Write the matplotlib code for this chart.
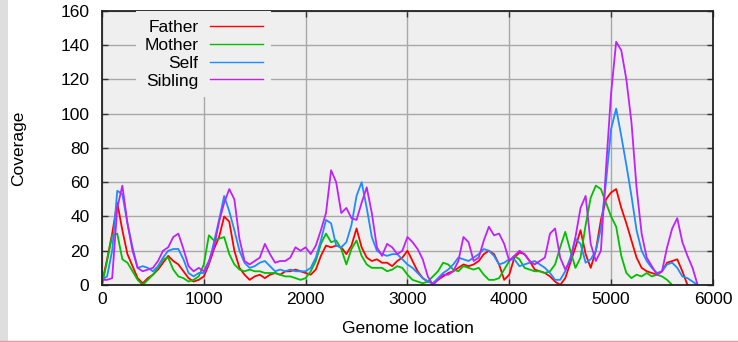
import numpy as np
import matplotlib.pyplot as plt
from matplotlib.patches import Rectangle
from matplotlib.lines import Line2D

# coverage sampled every 50 bp along the genome
step = 50

father = [1, 15, 30, 48, 32, 18, 11, 4, 1, 4, 6, 9, 13, 17, 14, 12, 8, 4, 2, 3,
          5, 12, 21, 28, 40, 37, 20, 10, 6, 3, 5, 6, 4, 6, 7, 6, 8, 8, 9, 8,
          7, 6, 9, 17, 23, 22, 23, 22, 18, 23, 33, 22, 16, 14, 15, 13, 13, 11, 14, 16,
          20, 14, 8, 4, 2, 1, 3, 5, 7, 8, 10, 12, 11, 12, 14, 18, 20, 18, 12, 3,
          6, 16, 19, 18, 14, 9, 8, 7, 5, 2, 0, 4, 13, 22, 32, 18, 10, 20, 38, 50,
          54, 56, 45, 36, 26, 16, 10, 8, 7, 6, 8, 13, 14, 15, 8, 0]

mother = [0, 14, 29, 30, 15, 13, 8, 3, 0, 3, 6, 10, 15, 16, 9, 5, 4, 2, 3, 5,
          12, 29, 26, 27, 28, 18, 12, 9, 8, 9, 8, 8, 7, 7, 7, 6, 5, 5, 4, 3,
          4, 8, 14, 24, 30, 25, 26, 21, 12, 21, 26, 17, 12, 10, 10, 10, 8, 9, 11, 10,
          6, 3, 2, 1, 2, 5, 8, 13, 12, 9, 8, 11, 10, 9, 10, 6, 3, 3, 4, 9,
          14, 17, 15, 10, 9, 8, 8, 7, 8, 12, 22, 31, 20, 10, 16, 35, 51, 58, 56, 48,
          40, 34, 17, 7, 4, 6, 5, 7, 5, 6, 5, 3, 0]

self_cov = [3, 5, 20, 55, 53, 36, 22, 10, 11, 10, 8, 11, 16, 20, 21, 21, 15, 7, 5, 7,
            7, 13, 25, 38, 52, 43, 32, 20, 13, 10, 11, 13, 14, 11, 8, 9, 8, 9, 8, 8,
            8, 10, 16, 26, 38, 36, 23, 22, 25, 35, 52, 60, 45, 28, 20, 18, 17, 18, 18, 15,
            12, 10, 7, 4, 2, 1, 4, 7, 9, 12, 16, 15, 14, 16, 18, 21, 20, 17, 12, 13,
            15, 15, 11, 12, 13, 14, 12, 10, 7, 3, 3, 8, 16, 27, 24, 13, 15, 20, 33, 60,
            91, 103, 87, 70, 52, 32, 20, 14, 10, 7, 8, 12, 13, 10, 5, 4, 2, 0]

sibling = [3, 3, 4, 45, 58, 36, 20, 10, 8, 9, 10, 14, 20, 22, 28, 30, 21, 11, 8, 10,
           8, 14, 22, 37, 48, 56, 50, 27, 14, 12, 14, 16, 24, 18, 13, 14, 14, 16, 22, 20,
           22, 18, 23, 32, 42, 67, 60, 42, 45, 39, 38, 48, 57, 42, 22, 17, 24, 22, 18, 20,
           28, 25, 21, 15, 5, 0, 3, 6, 6, 8, 14, 28, 25, 14, 16, 26, 34, 29, 30, 24,
           14, 17, 20, 18, 14, 12, 14, 16, 30, 33, 16, 9, 14, 28, 45, 52, 24, 14, 20, 68,
           112, 142, 137, 120, 95, 57, 30, 16, 11, 6, 8, 22, 33, 39, 25, 17, 10, 0]

series = [
    ("Father", father, "#ff0000"),
    ("Mother", mother, "#00c000"),
    ("Self", self_cov, "#1e8cff"),
    ("Sibling", sibling, "#c020ff"),
]

plt.rcParams["font.family"] = ["Liberation Sans", "DejaVu Sans"]

fig = plt.figure(figsize=(7.38, 3.42), dpi=100)
ax = fig.add_axes([0.1382, 0.1667, 0.8278, 0.8013])
ax.set_facecolor("#efefef")

# grey strip on the left and thin rule along the bottom
fig.patches.append(Rectangle((0, 0), 0.011, 1, transform=fig.transFigure,
                             facecolor="#dedede", edgecolor="none", zorder=0))
fig.lines.append(Line2D([0, 1], [0.002, 0.002], transform=fig.transFigure,
                        color="#e89a9a", lw=1))

for name, vals, col in series:
    x = np.arange(len(vals)) * step
    ax.plot(x, vals, color=col, lw=1.3, label=name)

ax.set_xlim(0, 6000)
ax.set_ylim(0, 160)
ax.set_xticks(range(0, 6001, 1000))
ax.set_yticks(range(0, 161, 20))
ax.grid(True, color="#a8a8a8", lw=1)
ax.set_axisbelow(True)
ax.tick_params(direction="in", top=True, right=True, length=4, width=1,
               labelsize=12.5, color="#333333")
ax.tick_params(axis="x", pad=5)
ax.tick_params(axis="y", pad=9)
for sp in ax.spines.values():
    sp.set_linewidth(1.3)
    sp.set_color("#222222")

ax.set_xlabel("Genome location", fontsize=12.5)
ax.set_ylabel("Coverage", fontsize=12.5)
ax.yaxis.set_label_coords(-0.125, 0.5)
ax.xaxis.set_label_coords(0.5, -0.132)

leg = ax.legend(loc="upper right", bbox_to_anchor=(0.277, 1.0), markerfirst=False,
                fontsize=12.5, handlelength=3.0, handletextpad=0.7,
                labelspacing=0.16, borderpad=0.5, borderaxespad=0.0,
                fancybox=False, framealpha=1)
leg.get_frame().set_facecolor("#efefef")
leg.get_frame().set_edgecolor("none")
for line in leg.get_lines():
    line.set_linewidth(1.0)

fig.savefig("out.png", dpi=100)
